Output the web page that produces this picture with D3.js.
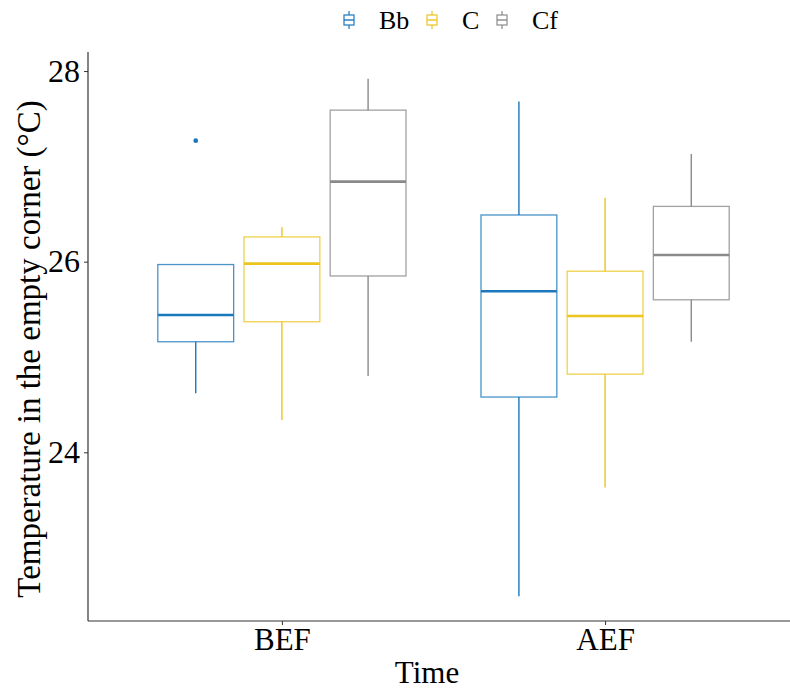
<!DOCTYPE html>
<html>
<head>
<meta charset="utf-8">
<script src="https://cdn.jsdelivr.net/npm/d3@7"></script>
<style>
  body { margin: 0; background: #fff; }
  text { font-family: "Liberation Serif", "Times New Roman", serif; fill: #000; }
</style>
</head>
<body>
<script>
// categories
const times = ['BEF', 'AEF']
const groupNames = ['Bb', 'C', 'Cf']
const colors = ['#1C78BC', '#EBC51E', '#8A8A8A']

// box stats, one value per [time][group]
const whiskerLow  = [[24.62, 24.34, 24.80], [22.49, 23.63, 25.16]]
const q1          = [[25.16, 25.37, 25.85], [24.58, 24.82, 25.60]]
const medians     = [[25.44, 25.98, 26.84], [25.69, 25.43, 26.07]]
const q3          = [[25.97, 26.26, 27.59], [26.49, 25.90, 26.58]]
const whiskerHigh = [[25.97, 26.36, 27.92], [27.68, 26.67, 27.13]]
// outliers: [time, group, value]
const outliers = [['BEF', 'Bb', 27.27]]
const yTicks = [24, 26, 28]

const W = 790, H = 691
const mLeft = 88, mRight = 799, mTop = 52, mBottom = 621

const svg = d3.select('body').append('svg')
  .attr('width', W).attr('height', H)

const x = d3.scalePoint().domain(times).range([mLeft, mRight]).padding(0.6)
const step = x.step()
const inner = d3.scaleBand().domain(groupNames).range([-0.4 * step, 0.4 * step])
const boxW = inner.bandwidth() * 0.88
const y = d3.scaleLinear().domain([22.23, 28.2]).range([mBottom, mTop])

const boxes = []
times.forEach((t, ti) => {
  groupNames.forEach((g, gi) => {
    boxes.push({time: t, group: g, color: colors[gi],
      lo: whiskerLow[ti][gi], q1: q1[ti][gi], med: medians[ti][gi],
      q3: q3[ti][gi], hi: whiskerHigh[ti][gi]})
  })
})

const cx = d => x(d.time) + inner(d.group) + inner.bandwidth() / 2

const bx = svg.selectAll('g.box').data(boxes).enter().append('g').attr('class', 'box')

bx.append('line')
  .attr('x1', cx).attr('x2', cx)
  .attr('y1', d => y(d.q3)).attr('y2', d => y(d.hi))
  .attr('stroke', d => d.color).attr('stroke-width', 1.4)
bx.append('line')
  .attr('x1', cx).attr('x2', cx)
  .attr('y1', d => y(d.q1)).attr('y2', d => y(d.lo))
  .attr('stroke', d => d.color).attr('stroke-width', 1.4)
bx.append('rect')
  .attr('x', d => cx(d) - boxW / 2).attr('width', boxW)
  .attr('y', d => y(d.q3)).attr('height', d => y(d.q1) - y(d.q3))
  .attr('fill', 'none').attr('stroke', d => d.color).attr('stroke-width', 1.3)
  .attr('stroke-opacity', 0.8)
bx.append('line')
  .attr('x1', d => cx(d) - boxW / 2).attr('x2', d => cx(d) + boxW / 2)
  .attr('y1', d => y(d.med)).attr('y2', d => y(d.med))
  .attr('stroke', d => d.color).attr('stroke-width', 2.6)

svg.selectAll('circle.outlier').data(outliers).enter().append('circle')
  .attr('class', 'outlier')
  .attr('cx', d => x(d[0]) + inner(d[1]) + inner.bandwidth() / 2)
  .attr('cy', d => y(d[2]))
  .attr('r', 2.4)
  .attr('fill', d => colors[groupNames.indexOf(d[1])])

// axes
const yAxis = svg.append('g')
  .attr('transform', `translate(${mLeft},0)`)
  .call(d3.axisLeft(y).tickValues(yTicks).tickFormat(d3.format('d')).tickSize(4).tickPadding(4))
yAxis.select('.domain').attr('d', `M0,${mTop}V${mBottom}`).attr('stroke', '#333').attr('stroke-width', 1.2)
yAxis.selectAll('.tick line').attr('stroke', '#333')
yAxis.selectAll('.tick text').attr('font-size', 32)
  .style('font-family', '"Liberation Serif", serif').attr('fill', '#111')

const xAxis = svg.append('g')
  .attr('transform', `translate(0,${mBottom})`)
  .call(d3.axisBottom(x).tickSize(4).tickPadding(3))
xAxis.select('.domain').attr('d', `M${mLeft},0H${mRight}`).attr('stroke', '#333').attr('stroke-width', 1.2)
xAxis.selectAll('.tick line').attr('stroke', '#333')
xAxis.selectAll('.tick text').attr('font-size', 31)
  .style('font-family', '"Liberation Serif", serif').attr('fill', '#111')

svg.append('text')
  .attr('x', (mLeft + W) / 2 - 12).attr('y', 683)
  .attr('text-anchor', 'middle').attr('font-size', 31)
  .text('Time')

svg.append('text')
  .attr('transform', `translate(40,349) rotate(-90)`)
  .attr('text-anchor', 'middle').attr('font-size', 33)
  .text('Temperature in the empty corner (°C)')

// legend
const legendX = [349, 432, 502]
const leg = svg.selectAll('g.legend').data(groupNames).enter().append('g')
  .attr('class', 'legend')
  .attr('transform', (d, i) => `translate(${legendX[i]},20)`)
leg.append('line').attr('x1', 0).attr('x2', 0).attr('y1', -9).attr('y2', 9)
  .attr('stroke', (d, i) => colors[i]).attr('stroke-width', 1.2)
leg.append('rect').attr('x', -5).attr('y', -5).attr('width', 10).attr('height', 10)
  .attr('fill', '#fff').attr('stroke', (d, i) => colors[i]).attr('stroke-width', 1.2)
leg.append('line').attr('x1', -5).attr('x2', 5).attr('y1', 0).attr('y2', 0)
  .attr('stroke', (d, i) => colors[i]).attr('stroke-width', 1.4)
leg.append('text').attr('x', 30).attr('y', 9).attr('font-size', 26)
  .text(d => d)
</script>
</body>
</html>
